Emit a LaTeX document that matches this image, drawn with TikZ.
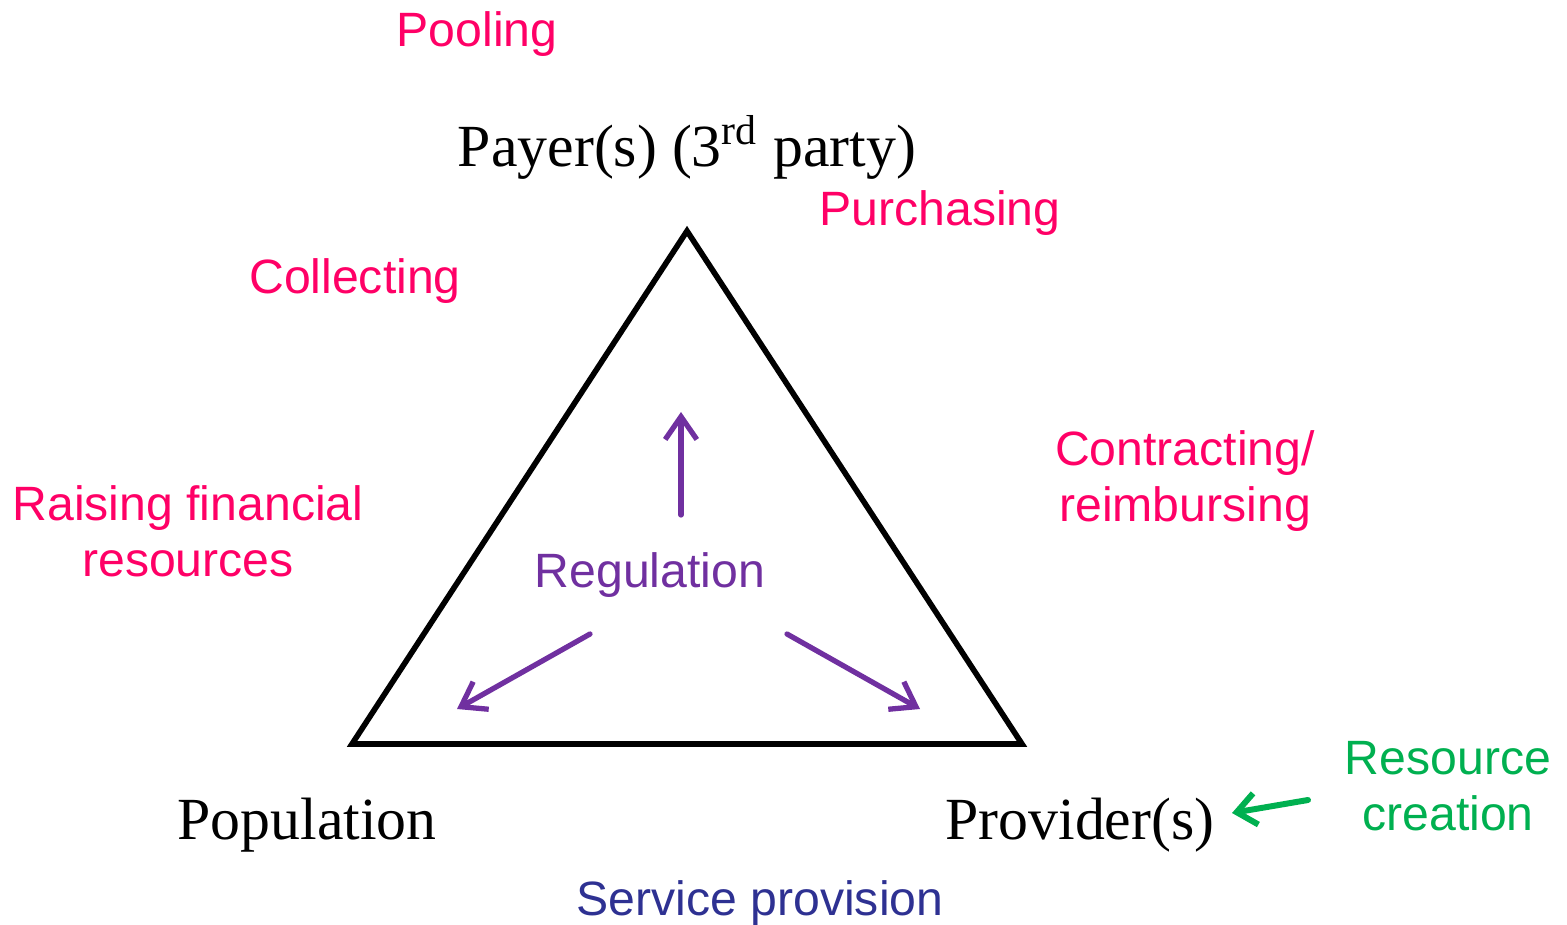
\documentclass[tikz,border=0pt]{standalone}
\usepackage{fontspec}
\setmainfont{Liberation Serif}
\setsansfont{Liberation Sans}
\usetikzlibrary{arrows.meta}
\definecolor{fpink}{RGB}{255,0,102}
\definecolor{fpurple}{RGB}{112,48,160}
\definecolor{fgreen}{RGB}{0,176,80}
\definecolor{fnavy}{RGB}{46,49,146}
\tikzset{
  actor/.style={font=\fontsize{17}{20}\selectfont\rmfamily, inner sep=0pt, text=black},
  func/.style={font=\fontsize{13.7}{16}\selectfont\sffamily, inner sep=0pt, align=center, text=fpink},
  regarrow/.style={draw=fpurple, line width=1.5pt, line cap=round,
    -{Straight Barb[length=6.5pt,width=9pt,line width=1.5pt]}},
  resarrow/.style={draw=fgreen, line width=1.7pt, line cap=round,
    -{Straight Barb[length=5.5pt,width=9pt,line width=1.7pt]}}
}
\begin{document}
\begin{tikzpicture}[x=0.01cm, y=-0.01cm]
\useasboundingbox (0,0) rectangle (1567,925);

% triangle corners
\coordinate (apex) at (687,231);
\coordinate (bl) at (352,744);
\coordinate (br) at (1022,744);
\draw[line width=1.6pt, line join=miter] (apex) -- (bl) -- (br) -- cycle;

% actors at the corners
\node[actor] (payer) at (687,147) {Payer(s) (3\textsuperscript{rd} party)};
\node[actor] (pop) at (307,825) {Population};
\node[actor] (prov) at (1080,825) {Provider(s)};

% functions
\node[func] (pool) at (477,34) {Pooling};
\node[func] (purch) at (940,213) {Purchasing};
\node[func] (coll) at (355,281) {Collecting};
\node[func] (contr) at (1185,481) {Contracting/\\reimbursing};
\node[func] (raise) at (188,531) {Raising financial\\resources};
\node[func, text=fpurple] (reg) at (650,575) {Regulation};
\node[func, text=fgreen] (res) at (1448,786) {Resource\\creation};
\node[func, text=fnavy] (serv) at (760,903) {Service provision};

% regulation arrows
\coordinate (upS) at (681,515);
\coordinate (upE) at (681,412);
\coordinate (lS) at (590,634);
\coordinate (lE) at (457,709);
\coordinate (rS) at (787,634);
\coordinate (rE) at (920,709);
\draw[regarrow] (upS) -- (upE);
\draw[regarrow] (lS) -- (lE);
\draw[regarrow] (rS) -- (rE);

% resource creation arrow
\coordinate (gS) at (1308,800);
\coordinate (gE) at (1232,813);
\draw[resarrow] (gS) -- (gE);
\end{tikzpicture}
\end{document}
